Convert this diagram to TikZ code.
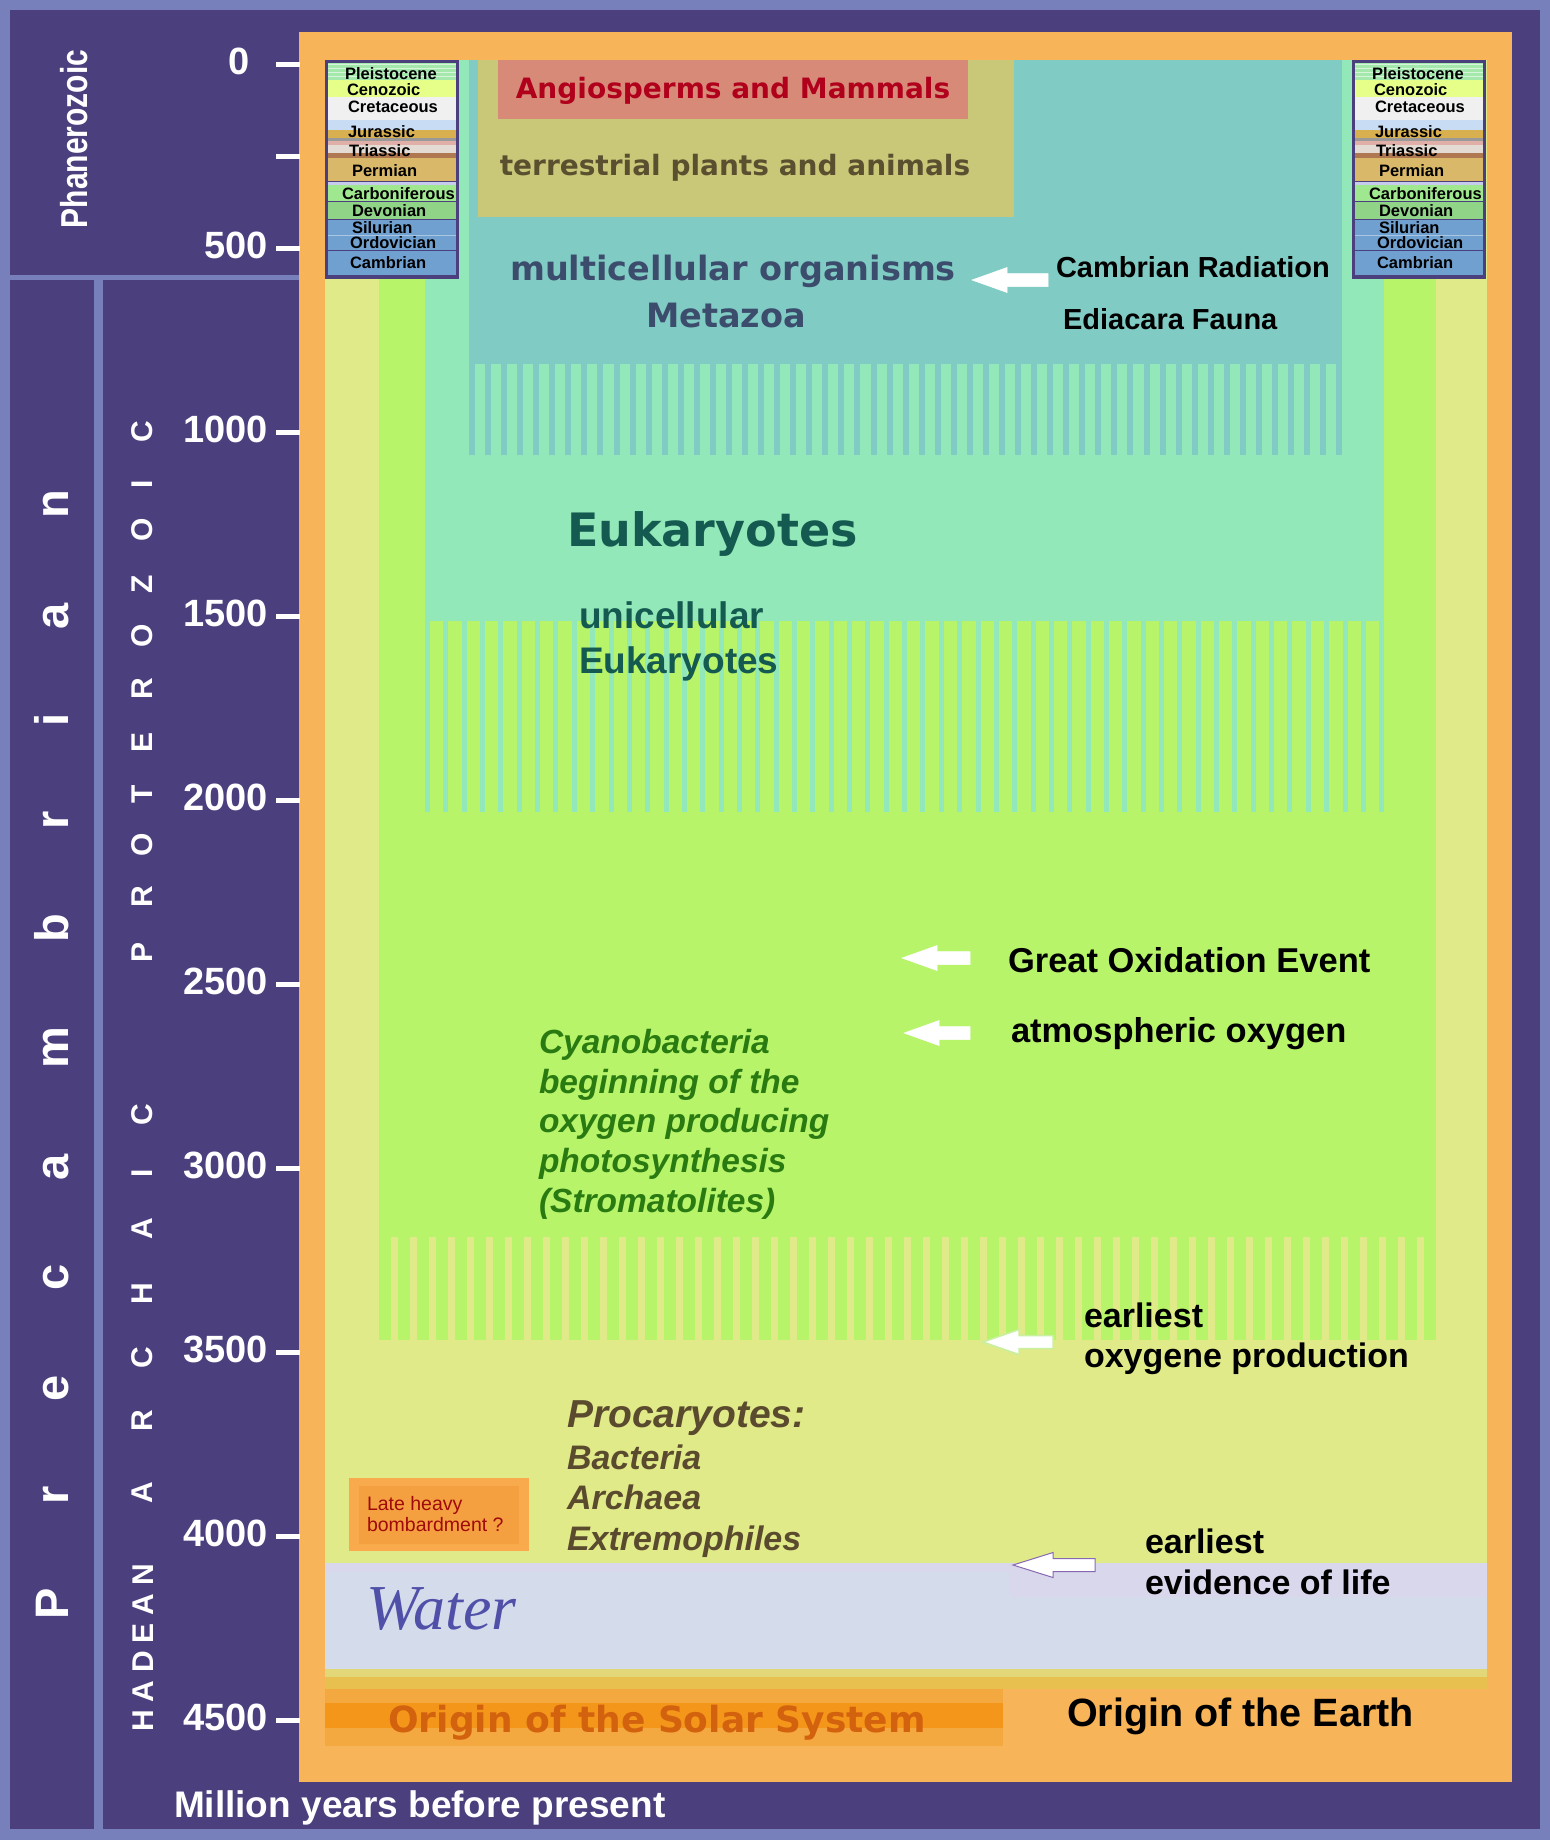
\documentclass[tikz,border=0pt]{standalone}
\usepackage{graphicx}
\usepackage{fontspec}
\setmainfont{Liberation Sans}
\newfontfamily\dejavu{DejaVu Sans}
\newfontfamily\lserif{Liberation Serif}
\newcommand{\fsz}[1]{\fontsize{#1}{#1}\selectfont}
\newcommand{\myarrow}[5]{% tip x, centre y, head length, total length, style
  \filldraw[#5] (#1,#2) -- (#1+#3,#2-12.5) -- (#1+#3,#2-6.5) -- (#1+#4,#2-6.5)
    -- (#1+#4,#2+6.5) -- (#1+#3,#2+6.5) -- (#1+#3,#2+12.5) -- cycle;}
\definecolor{frame}{HTML}{7880BB}
\definecolor{dark}{HTML}{4B3F7D}
\definecolor{orng}{HTML}{F8B458}
\definecolor{paley}{HTML}{E0EA88}
\definecolor{grn}{HTML}{B8F46A}
\definecolor{mint}{HTML}{92E8B8}
\definecolor{teal}{HTML}{80CCC4}
\definecolor{olive}{HTML}{C8C878}
\definecolor{salmon}{HTML}{D88A78}
\definecolor{angred}{HTML}{B0001C}
\definecolor{terr}{HTML}{5A5030}
\definecolor{multi}{HTML}{3C4C6C}
\definecolor{euk}{HTML}{145A50}
\definecolor{cyan}{HTML}{2A7A12}
\definecolor{proc}{HTML}{5A4A2E}
\definecolor{water}{HTML}{D4DCEC}
\definecolor{water2}{HTML}{D8D7EB}
\definecolor{watertxt}{HTML}{5050A8}
\definecolor{ys1}{HTML}{E2D878}
\definecolor{ys2}{HTML}{E8C050}
\definecolor{sol1}{HTML}{F4A840}
\definecolor{sol2}{HTML}{F4961A}
\definecolor{soltxt}{HTML}{D2620E}
\definecolor{lhb1}{HTML}{F8AA4C}
\definecolor{lhb2}{HTML}{F4A040}
\definecolor{lhbtxt}{HTML}{A00A0A}
\definecolor{pleis}{HTML}{A4E8AC}
\definecolor{ceno}{HTML}{E6FF88}
\definecolor{creta}{HTML}{F0F0F0}
\definecolor{lblue}{HTML}{C8DCF4}
\definecolor{gold}{HTML}{D8B050}
\definecolor{pink}{HTML}{E0B0A8}
\definecolor{pale}{HTML}{E4DCD4}
\definecolor{brown}{HTML}{B07850}
\definecolor{perm}{HTML}{DAB86A}
\definecolor{lav}{HTML}{C8CCEC}
\definecolor{carb}{HTML}{A0E890}
\definecolor{devo}{HTML}{90D488}
\definecolor{blu}{HTML}{70A0D0}
\definecolor{lifeedge}{HTML}{8868B0}
\definecolor{o2edge}{HTML}{C8F0A0}
\tikzset{
  txt/.style={inner sep=0pt, outer sep=0pt},
  tick/.style={white, line width=5pt},
  ticklbl/.style={txt, anchor=base east, text=white, font=\bfseries\fsz{38}},
  vlet/.style={txt, anchor=base, rotate=90, text=white, font=\bfseries\fsz{#1}},
  boxlbl/.style={txt, anchor=base west, text=black, font=\bfseries\fsz{16.5}},
  blk/.style={txt, anchor=base west, text=black, font=\bfseries\fsz{#1}},
  wharrow/.style={fill=white, draw=white, line width=0.5pt},
  timebox/.pic={
    \fill[dark] (0,0) rectangle (134,219);
    \fill[pleis] (3,3) rectangle (131,20);
    \foreach \yy in {4,8,12,16} \fill[white!55!pleis] (3,\yy) rectangle (131,\yy+1.2);
    \fill[ceno] (3,20) rectangle (131,37);
    \fill[creta] (3,37) rectangle (131,60);
    \fill[lblue] (3,60) rectangle (131,70);
    \fill[gold] (3,70) rectangle (131,78);
    \fill[gray!80] (3,78) rectangle (131,81);
    \fill[pink] (3,81) rectangle (131,85);
    \fill[pale] (3,85) rectangle (131,93);
    \fill[brown] (3,93) rectangle (131,98);
    \fill[perm] (3,98) rectangle (131,121);
    \fill[lav] (3,122) rectangle (131,125);
    \fill[carb] (3,125) rectangle (131,141);
    \fill[devo] (3,142) rectangle (131,159);
    \fill[blu] (3,160) rectangle (131,175);
    \fill[blu!60!white] (3,175) rectangle (131,176);
    \fill[blu] (3,176) rectangle (131,190);
    \fill[blu] (3,191) rectangle (131,215);
    \node[boxlbl] (-pl) at (20,19) {Pleistocene};
    \node[boxlbl] (-ce) at (22,35) {Cenozoic};
    \node[boxlbl] (-cr) at (23,52) {Cretaceous};
    \node[boxlbl] (-ju) at (23,77) {Jurassic};
    \node[boxlbl] (-tr) at (24,96) {Triassic};
    \node[boxlbl] (-pe) at (27,116) {Permian};
    \node[boxlbl] (-ca) at (17,139) {Carboniferous};
    \node[boxlbl] (-de) at (27,156) {Devonian};
    \node[boxlbl] (-si) at (27,173) {Silurian};
    \node[boxlbl] (-or) at (25,188.5) {Ordovician};
    \node[boxlbl] (-cm) at (25,208.5) {Cambrian};
  }
}
\begin{document}
\begin{tikzpicture}[x=1pt, y=-1pt]
\useasboundingbox (0,0) rectangle (1550,1840);
% frame and panels
\fill[frame] (0,0) rectangle (1550,1840);
\fill[dark] (10,10) rectangle (1540,1829);
\fill[frame] (10,275) rectangle (299,280);
\fill[frame] (94,280) rectangle (103,1829);
\fill[orng] (299,32) rectangle (1512,1782);
% nested columns
\fill[paley] (325,60) rectangle (1487,1563);
\fill[grn] (379,60) rectangle (1436,1237);
\foreach \k in {0,...,55} \fill[grn] ({379+\k*19},1237) rectangle ({391+\k*19},1340);
\fill[mint] (425,60) rectangle (1384,621);
\foreach \k in {0,...,52} \fill[mint] ({425+\k*18.35},621) rectangle ({430+\k*18.35},812);
\fill[teal] (469,60) rectangle (1342,364);
\foreach \k in {0,...,54} \fill[teal] ({469+\k*16.06},364) rectangle ({475+\k*16.06},455);
\fill[olive] (478,60) rectangle (1014,217);
\fill[salmon] (498,60) rectangle (968,119);
% water and bottom bands
\fill[water] (325,1563) rectangle (1487,1669);
\fill[water2] (325,1563) rectangle (1013,1572);
\fill[water2] (1009,1563) rectangle (1487,1597);
\fill[ys1] (325,1669) rectangle (1487,1677);
\fill[ys2] (325,1677) rectangle (1487,1689);
\fill[sol1] (325,1689) rectangle (1003,1746);
\fill[sol2] (325,1703) rectangle (1003,1728);
\fill[lhb1] (349,1478) rectangle (529,1551);
\fill[lhb2] (359,1486) rectangle (519,1544);
% time scale boxes
\pic (L) at (325,60) {timebox};
\pic (R) at (1352,60) {timebox};
% ticks and labels
\draw[tick] (276,64) -- (300,64);
\draw[tick] (276,156) -- (300,156);
\node[ticklbl] (t0) at (250,74) {0};
\foreach \v [evaluate=\v as \ty using 64+\v*0.368] in {500,1000,...,4500} {
  \draw[tick] (276,\ty) -- (300,\ty);
  \node[ticklbl] (t\v) at (268,\ty+10) {\v};
}
% era labels
\node[txt, rotate=90, anchor=base, text=white, font=\bfseries\fsz{30}] (phan) at (87,139) {\scalebox{1}[1.25]{Phanerozoic}};
\foreach \ch/\yy [count=\i] in {P/1604, r/1495, e/1388, c/1277, a/1167, m/1048, b/928, r/820, i/720, a/616, n/504}
  \node[vlet=47] (pre\i) at (68.5,\yy) {\ch};
\foreach \ch/\yy [count=\i] in {P/952, R/897, O/845, T/794, E/742, R/689, O/636, Z/584, O/530, I/484, C/432}
  \node[vlet=30] (pro\i) at (152,\yy) {\ch};
\foreach \ch/\yy [count=\i] in {A/1493, R/1421, C/1358, H/1294, A/1229, I/1173, C/1115}
  \node[vlet=30] (arc\i) at (152,\yy) {\ch};
\foreach \ch/\yy [count=\i] in {H/1721, A/1692, D/1662, E/1633, A/1605, N/1575}
  \node[vlet=30] (had\i) at (153,\yy) {\ch};
\node[txt, anchor=base west, text=white, font=\bfseries\fsz{37}] (myr) at (174,1817) {Million years before present};
% content labels
\node[txt, anchor=base, text=angred, font=\dejavu\bfseries\fsz{28}] (angio) at (733,98) {Angiosperms and Mammals};
\node[txt, anchor=base, text=terr, font=\dejavu\bfseries\fsz{28}] (terr) at (735,175) {terrestrial plants and animals};
\node[txt, anchor=base, text=multi, font=\dejavu\bfseries\fsz{33.5}] (multi) at (733,280) {multicellular organisms};
\node[txt, anchor=base, text=multi, font=\dejavu\bfseries\fsz{33.5}] (meta) at (726,327) {Metazoa};
\node[blk=29] (camb) at (1056,277) {Cambrian Radiation};
\node[blk=29] (edia) at (1063,329) {Ediacara Fauna};
\node[txt, anchor=base west, text=euk, font=\dejavu\bfseries\fsz{46}] (euk) at (567,546) {Eukaryotes};
\node[txt, anchor=base west, text=euk, font=\bfseries\fsz{37}] (uni1) at (579,628) {unicellular};
\node[txt, anchor=base west, text=euk, font=\bfseries\fsz{37}] (uni2) at (579,673) {Eukaryotes};
\node[blk=34.5] (goe) at (1008,972) {Great Oxidation Event};
\node[blk=34.5] (atm) at (1011,1042) {atmospheric oxygen};
\foreach \tx/\yy [count=\i] in {Cyanobacteria/1053, beginning of the/1093, oxygen producing/1132, photosynthesis/1172, (Stromatolites)/1212}
  \node[txt, anchor=base west, text=cyan, font=\bfseries\itshape\fsz{33.5}] (cy\i) at (539,\yy) {\tx};
\node[blk=34] (eo1) at (1084,1327) {earliest};
\node[blk=34] (eo2) at (1084,1367) {oxygene production};
\node[txt, anchor=base west, text=proc, font=\bfseries\itshape\fsz{39}] (proc) at (567,1427) {Procaryotes:};
\node[txt, anchor=base west, text=proc, font=\bfseries\itshape\fsz{34}] (bact) at (567,1469) {Bacteria};
\node[txt, anchor=base west, text=proc, font=\bfseries\itshape\fsz{34}] (arch) at (567,1509) {Archaea};
\node[txt, anchor=base west, text=proc, font=\bfseries\itshape\fsz{34}] (extr) at (567,1550) {Extremophiles};
\node[txt, anchor=base west, text=lhbtxt, font=\fsz{19.5}] (lhb1) at (367,1510) {Late heavy};
\node[txt, anchor=base west, text=lhbtxt, font=\fsz{19.5}] (lhb2) at (367,1531) {bombardment ?};
\node[blk=34] (el1) at (1145,1553) {earliest};
\node[blk=34] (el2) at (1145,1594) {evidence of life};
\node[txt, anchor=base west, text=watertxt, font=\lserif\itshape\fsz{64}] (wat) at (366,1629) {Water};
\node[txt, anchor=base, text=soltxt, font=\dejavu\bfseries\fsz{36}] (sol) at (657,1732) {Origin of the Solar System};
\node[blk=39.5] (earth) at (1067,1726) {Origin of the Earth};
% white block arrows
\myarrow{972}{280}{35}{76}{wharrow}
\myarrow{902}{958}{35}{68}{wharrow}
\myarrow{904}{1033}{35}{66}{wharrow}
\myarrow{983}{1342}{36}{70}{fill=white, draw=o2edge, line width=1.5pt}
\myarrow{1013}{1565}{40}{82}{fill=white, draw=lifeedge, line width=1pt}
\end{tikzpicture}
\end{document}
